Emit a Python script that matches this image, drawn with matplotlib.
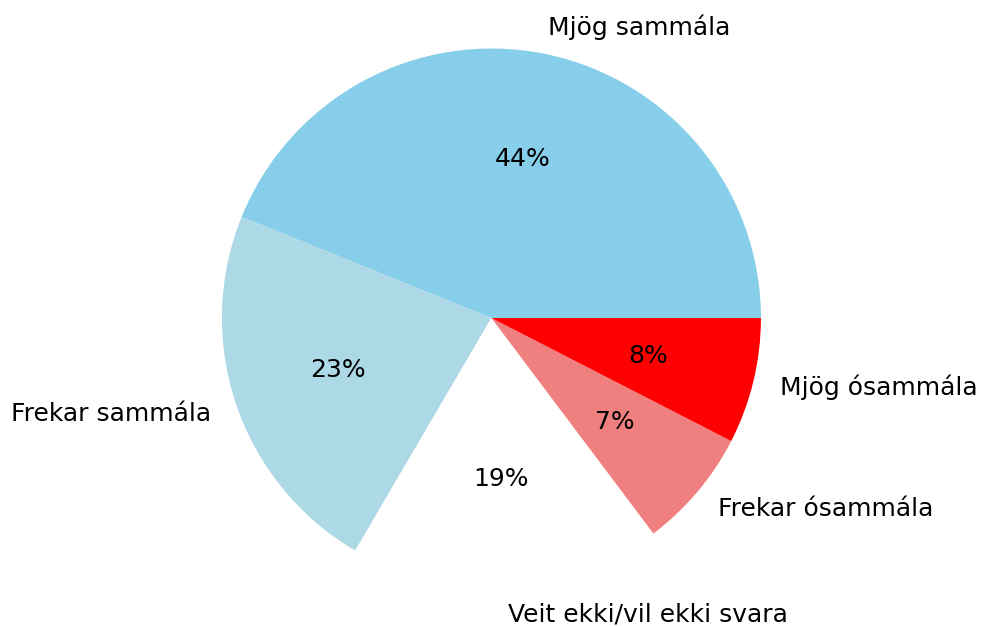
import matplotlib.pyplot as plt

labels = ['Mjög sammála', 'Frekar sammála', 'Veit ekki/vil ekki svara',
          'Frekar ósammála', 'Mjög ósammála']
values = [43.9, 22.7, 18.7, 7.2, 7.55]
colors = ['skyblue', 'lightblue', 'white', 'lightcoral', 'red']

fig = plt.figure(figsize=(9.82, 6.26), dpi=100)
# pie centre ~ (491, 318) px, radius ~ 270 px
ax = fig.add_axes([0.1574, -0.0462, 0.6861, 1.0763])

ax.pie(values, labels=labels, colors=colors, autopct='%1.0f%%',
       textprops={'fontsize': 18, 'color': 'black'})
ax.set_xlim(-1.25, 1.25)
ax.set_ylim(-1.25, 1.25)
ax.set_aspect('equal')

fig.savefig('out.png', dpi=100)
